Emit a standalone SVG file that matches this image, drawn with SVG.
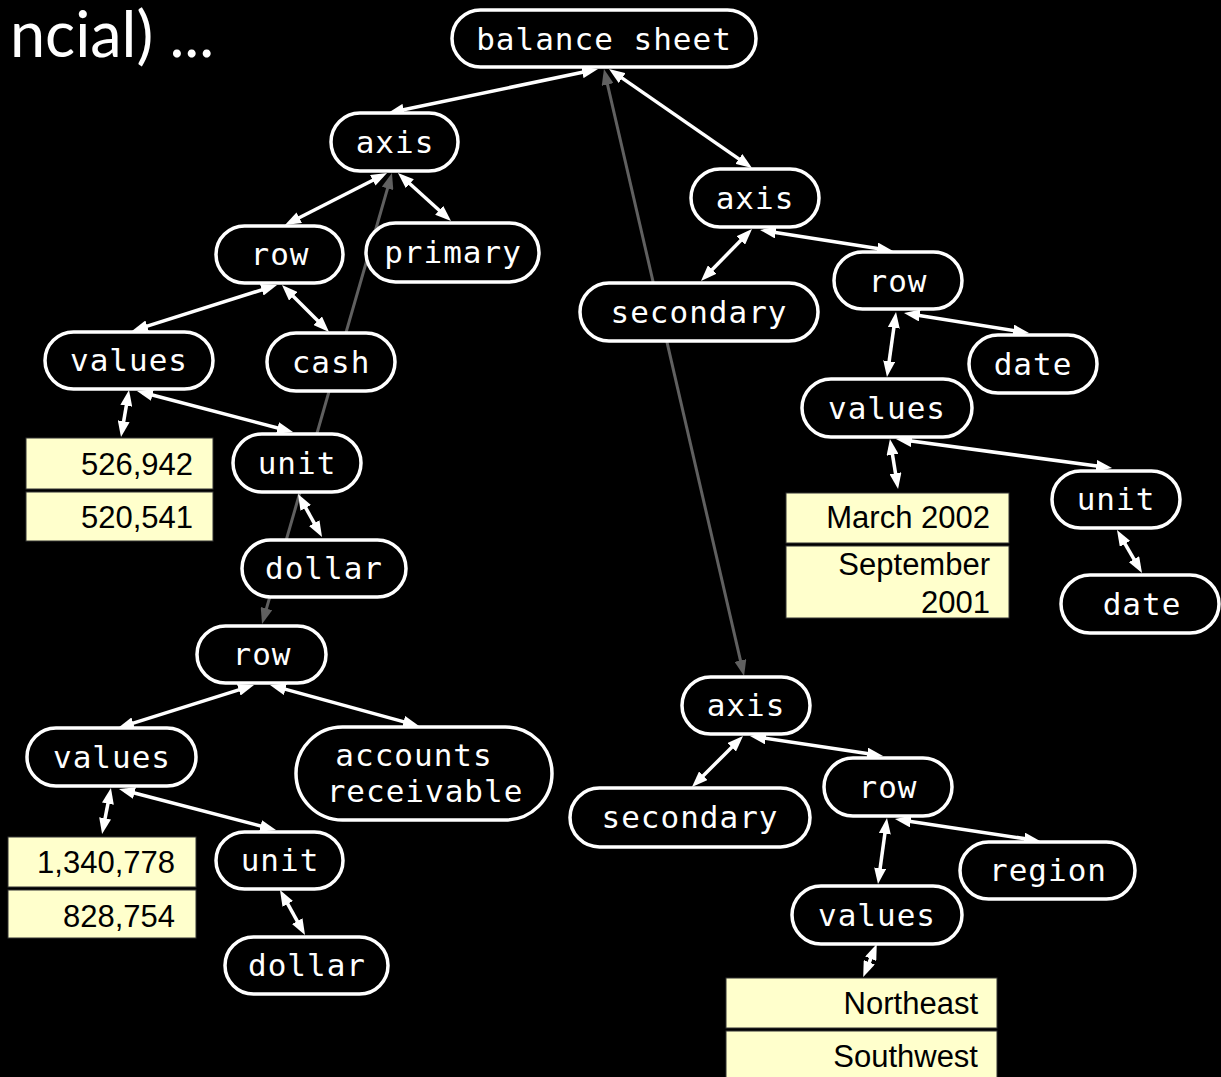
<svg xmlns="http://www.w3.org/2000/svg" width="1221" height="1077" viewBox="0 0 1221 1077">
  <style>
    .bg { fill: #000; }
    .title { fill: #fff; font-family: "Lato", "Liberation Sans", sans-serif; font-weight: 400; font-size: 63px; }
    .pill { fill: #000; stroke: #fff; stroke-width: 3.5; }
    .lbl { fill: #fff; font-family: "DejaVu Sans Mono", "Liberation Mono", monospace; font-size: 31px; letter-spacing: 1px; text-anchor: middle; }
    .cell { fill: #ffffcc; stroke: #333; stroke-width: 1; }
    .val { fill: #000; font-family: "Liberation Sans", Arial, sans-serif; font-size: 31px; text-anchor: end; }
    .link { stroke: #fff; stroke-width: 3.5; fill: none; marker-start: url(#aw); marker-end: url(#aw); }
    .ref { stroke: #606060; stroke-width: 3; fill: none; marker-start: url(#ag); marker-end: url(#ag); }
  </style>
  <defs>
    <marker id="aw" viewBox="0 0 16 12" refX="10" refY="6" markerWidth="16" markerHeight="12" markerUnits="userSpaceOnUse" orient="auto-start-reverse">
      <path d="M0,0 L16,6 L0,12 z" fill="#fff"/>
    </marker>
    <marker id="ag" viewBox="0 0 16 12" refX="10" refY="6" markerWidth="16" markerHeight="12" markerUnits="userSpaceOnUse" orient="auto-start-reverse">
      <path d="M0,0 L16,6 L0,12 z" fill="#606060"/>
    </marker>
  </defs>

  <rect class="bg" x="0" y="0" width="1221" height="1077"/>
  <text class="title" x="214" y="57" text-anchor="end">ncial) ...</text>

  <!-- connectors (drawn first so nodes cover the long reference lines) -->
  <g id="connectors">
    <line class="ref" x1="605.3" y1="74.8" x2="742.7" y2="670.2"/>
    <line class="ref" x1="390.3" y1="178.8" x2="263.7" y2="618.2"/>

    <line class="link" x1="592.1" y1="70.2" x2="393.9" y2="111.8"/>
    <line class="link" x1="613.9" y1="72.4" x2="747.1" y2="164.6"/>
    <line class="link" x1="381.7" y1="175.7" x2="290.3" y2="222.3"/>
    <line class="link" x1="402.4" y1="177.0" x2="446.6" y2="217.0"/>
    <line class="link" x1="271.3" y1="286.8" x2="137.7" y2="329.2"/>
    <line class="link" x1="286.2" y1="289.2" x2="324.8" y2="327.8"/>
    <line class="link" x1="128.0" y1="395.9" x2="122.0" y2="431.1"/>
    <line class="link" x1="142.8" y1="392.5" x2="287.2" y2="430.5"/>
    <line class="link" x1="300.9" y1="499.2" x2="319.1" y2="531.8"/>

    <line class="link" x1="248.3" y1="686.8" x2="123.7" y2="726.2"/>
    <line class="link" x1="275.8" y1="686.6" x2="413.2" y2="724.4"/>
    <line class="link" x1="109.8" y1="793.9" x2="103.2" y2="828.1"/>
    <line class="link" x1="124.8" y1="790.5" x2="270.2" y2="828.5"/>
    <line class="link" x1="282.9" y1="895.2" x2="302.1" y2="929.8"/>

    <line class="link" x1="747.8" y1="233.3" x2="705.2" y2="276.7"/>
    <line class="link" x1="765.9" y1="230.9" x2="887.1" y2="250.1"/>
    <line class="link" x1="895.2" y1="317.9" x2="887.8" y2="371.1"/>
    <line class="link" x1="909.9" y1="313.9" x2="1023.1" y2="332.1"/>
    <line class="link" x1="890.9" y1="444.9" x2="897.1" y2="483.1"/>
    <line class="link" x1="901.9" y1="439.8" x2="1106.1" y2="467.2"/>
    <line class="link" x1="1120.0" y1="535.2" x2="1139.0" y2="567.8"/>

    <line class="link" x1="738.8" y1="740.2" x2="696.2" y2="782.8"/>
    <line class="link" x1="755.9" y1="736.9" x2="877.1" y2="755.1"/>
    <line class="link" x1="886.2" y1="823.9" x2="878.8" y2="878.1"/>
    <line class="link" x1="900.9" y1="819.9" x2="1034.1" y2="840.1"/>
    <line class="link" x1="874.5" y1="949.5" x2="865.5" y2="971.5"/>
  </g>

  <!-- root -->
  <g id="balance-sheet">
    <rect class="pill" x="452" y="10" width="304" height="57" rx="28.5"/>
    <text class="lbl" x="604" y="50">balance sheet</text>
  </g>

  <!-- primary axis -->
  <g id="axis-primary">
    <rect class="pill" x="331" y="113" width="127" height="58" rx="29"/>
    <text class="lbl" x="395" y="153">axis</text>
  </g>
  <g id="primary">
    <rect class="pill" x="366" y="223" width="173" height="59" rx="29.5"/>
    <text class="lbl" x="453" y="263">primary</text>
  </g>
  <g id="row-cash">
    <rect class="pill" x="216" y="226" width="127" height="57" rx="28.5"/>
    <text class="lbl" x="280" y="265">row</text>
  </g>
  <g id="cash">
    <rect class="pill" x="267" y="333" width="128" height="58" rx="29"/>
    <text class="lbl" x="331" y="373">cash</text>
  </g>
  <g id="values-cash">
    <rect class="pill" x="45" y="332" width="168" height="57" rx="28.5"/>
    <text class="lbl" x="129" y="371">values</text>
  </g>
  <g id="unit-cash">
    <rect class="pill" x="233" y="434" width="128" height="58" rx="29"/>
    <text class="lbl" x="297" y="474">unit</text>
  </g>
  <g id="dollar-cash">
    <rect class="pill" x="242" y="540" width="164" height="57" rx="28.5"/>
    <text class="lbl" x="324" y="579">dollar</text>
  </g>
  <g id="table-cash">
    <rect class="cell" x="26" y="438" width="187" height="51"/>
    <rect class="cell" x="26" y="492" width="187" height="49"/>
    <text class="val" x="193" y="475">526,942</text>
    <text class="val" x="193" y="528">520,541</text>
  </g>

  <g id="row-receivable">
    <rect class="pill" x="197" y="626" width="129" height="57" rx="28.5"/>
    <text class="lbl" x="262" y="665">row</text>
  </g>
  <g id="values-receivable">
    <rect class="pill" x="27" y="728" width="169" height="58" rx="29"/>
    <text class="lbl" x="112" y="768">values</text>
  </g>
  <g id="accounts-receivable">
    <rect class="pill" x="296" y="727" width="256" height="93" rx="46.5"/>
    <text class="lbl" x="414" y="766">accounts</text>
    <text class="lbl" x="425" y="802">receivable</text>
  </g>
  <g id="table-receivable">
    <rect class="cell" x="8" y="837" width="188" height="50"/>
    <rect class="cell" x="8" y="890" width="188" height="48"/>
    <text class="val" x="175" y="873">1,340,778</text>
    <text class="val" x="175" y="927">828,754</text>
  </g>
  <g id="unit-receivable">
    <rect class="pill" x="216" y="832" width="127" height="57" rx="28.5"/>
    <text class="lbl" x="280" y="871">unit</text>
  </g>
  <g id="dollar-receivable">
    <rect class="pill" x="225" y="937" width="163" height="57" rx="28.5"/>
    <text class="lbl" x="307" y="976">dollar</text>
  </g>

  <!-- secondary axis: dates -->
  <g id="axis-date">
    <rect class="pill" x="691" y="169" width="128" height="58" rx="29"/>
    <text class="lbl" x="755" y="209">axis</text>
  </g>
  <g id="secondary-date">
    <rect class="pill" x="580" y="283" width="238" height="58" rx="29"/>
    <text class="lbl" x="699" y="323">secondary</text>
  </g>
  <g id="row-date">
    <rect class="pill" x="834" y="252" width="128" height="57" rx="28.5"/>
    <text class="lbl" x="898" y="292">row</text>
  </g>
  <g id="date">
    <rect class="pill" x="969" y="335" width="128" height="58" rx="29"/>
    <text class="lbl" x="1033" y="375">date</text>
  </g>
  <g id="values-date">
    <rect class="pill" x="802" y="379" width="170" height="58" rx="29"/>
    <text class="lbl" x="887" y="419">values</text>
  </g>
  <g id="table-date">
    <rect class="cell" x="786" y="493" width="223" height="50"/>
    <rect class="cell" x="786" y="546" width="223" height="72"/>
    <text class="val" x="990" y="528">March 2002</text>
    <text class="val" x="990" y="575">September</text>
    <text class="val" x="990" y="613">2001</text>
  </g>
  <g id="unit-date">
    <rect class="pill" x="1052" y="471" width="128" height="57" rx="28.5"/>
    <text class="lbl" x="1116" y="510">unit</text>
  </g>
  <g id="date-unit">
    <rect class="pill" x="1061" y="575" width="158" height="58" rx="29"/>
    <text class="lbl" x="1142" y="615">date</text>
  </g>

  <!-- secondary axis: regions -->
  <g id="axis-region">
    <rect class="pill" x="682" y="677" width="128" height="57" rx="28.5"/>
    <text class="lbl" x="746" y="716">axis</text>
  </g>
  <g id="secondary-region">
    <rect class="pill" x="570" y="788" width="240" height="59" rx="29.5"/>
    <text class="lbl" x="690" y="828">secondary</text>
  </g>
  <g id="row-region">
    <rect class="pill" x="824" y="758" width="128" height="58" rx="29"/>
    <text class="lbl" x="888" y="798">row</text>
  </g>
  <g id="region">
    <rect class="pill" x="960" y="842" width="175" height="57" rx="28.5"/>
    <text class="lbl" x="1048" y="881">region</text>
  </g>
  <g id="values-region">
    <rect class="pill" x="792" y="886" width="170" height="58" rx="29"/>
    <text class="lbl" x="877" y="926">values</text>
  </g>
  <g id="table-region">
    <rect class="cell" x="726" y="978" width="271" height="50"/>
    <rect class="cell" x="726" y="1031" width="271" height="50"/>
    <text class="val" x="978" y="1014">Northeast</text>
    <text class="val" x="978" y="1067">Southwest</text>
  </g>
</svg>
